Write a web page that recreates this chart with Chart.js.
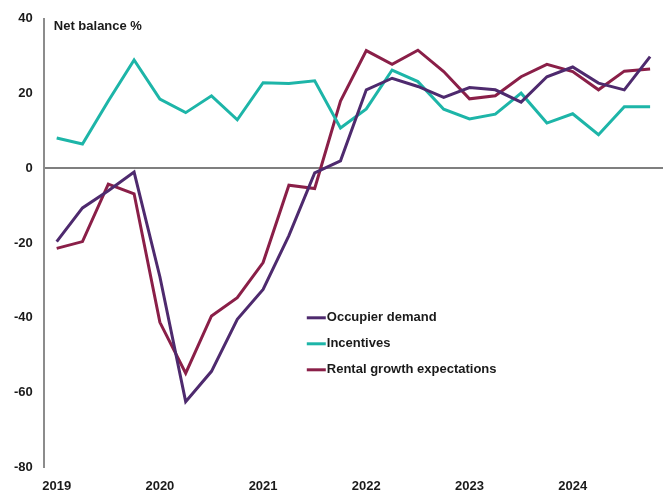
<!DOCTYPE html>
<html>
<head>
<meta charset="utf-8">
<script src="https://cdn.jsdelivr.net/npm/chart.js@4"></script>
<style>
  html, body { margin: 0; padding: 0; background: #fff; }
  #wrap { width: 669px; height: 494px; position: relative; }
</style>
</head>
<body>
<div id="wrap"><canvas id="chart"></canvas></div>
<script>
  // Quarterly labels, only Q1 shows the year
  const years = ['2019', '2020', '2021', '2022', '2023', '2024'];
  const quarterLabels = [];
  years.forEach(y => { quarterLabels.push(y, '', '', ''); });

  const seriesNames = ['Occupier demand', 'Incentives', 'Rental growth expectations'];
  const seriesColors = ['#4e2a6e', '#1db5a8', '#8a1f48'];

  const occupierDemand = [-19.6, -10.6, -6, -1, -29, -62.4, -54.3, -40.4, -32.4, -18, -1.2, 2,
    21, 24.1, 21.9, 19, 21.6, 21, 17.7, 24.5, 27.1, 22.8, 21, 29.9];
  const incentives = [8.1, 6.5, 18, 29, 18.5, 14.9, 19.4, 13, 22.9, 22.7, 23.4, 10.8,
    15.9, 26.3, 23.2, 15.8, 13.2, 14.5, 20.1, 12.1, 14.6, 9, 16.5, 16.5];
  const rentalGrowth = [-21.4, -19.6, -4.2, -6.8, -41.2, -54.8, -39.5, -34.6, -25.2, -4.5, -5.4, 18,
    31.5, 27.8, 31.6, 25.9, 18.6, 19.4, 24.5, 27.8, 25.9, 21, 26, 26.6];

  const yTicks = [-80, -60, -40, -20, 0, 20, 40];

  const FONT = '"Liberation Sans", Arial, sans-serif';

  // Title and legend drawn inside the plot area
  const overlayPlugin = {
    id: 'overlay',
    afterDraw(chart) {
      const c = chart.ctx;
      const area = chart.chartArea;
      c.save();
      c.font = 'bold 13px ' + FONT;
      c.fillStyle = '#1a1a1a';
      c.textBaseline = 'middle';
      c.fillText('Net balance %', area.left + 10, area.top + 8);

      const lx = area.left + 263;
      let ly = area.top + 299;
      seriesNames.forEach((name, i) => {
        c.strokeStyle = seriesColors[i];
        c.lineWidth = 3;
        c.beginPath();
        c.moveTo(lx, ly);
        c.lineTo(lx + 19, ly);
        c.stroke();
        c.fillStyle = '#1a1a1a';
        c.fillText(name, lx + 20, ly);
        ly += 26;
      });
      c.restore();
    }
  };

  const datasets = [occupierDemand, incentives, rentalGrowth].map((d, i) => ({
    label: seriesNames[i],
    data: d,
    borderColor: seriesColors[i],
    backgroundColor: seriesColors[i],
    borderWidth: 3,
    pointRadius: 0,
    tension: 0,
    fill: false
  }));

  new Chart(document.getElementById('chart'), {
    type: 'line',
    data: { labels: quarterLabels, datasets: datasets },
    options: {
      responsive: true,
      maintainAspectRatio: false,
      animation: false,
      layout: { padding: { top: 10, right: 6, left: 3, bottom: -11 } },
      plugins: {
        legend: { display: false },
        tooltip: { enabled: false }
      },
      scales: {
        x: {
          offset: true,
          grid: { display: false, drawTicks: false },
          border: { display: false },
          ticks: {
            autoSkip: false,
            maxRotation: 0,
            padding: 11,
            color: '#1a1a1a',
            font: { family: FONT, size: 13, weight: 'bold' }
          }
        },
        y: {
          min: -80,
          max: 40,
          afterBuildTicks(axis) { axis.ticks = yTicks.map(v => ({ value: v })); },
          grid: {
            drawTicks: false,
            color: ctx => (ctx.tick && ctx.tick.value === 0 ? '#7f7f7f' : 'rgba(0,0,0,0)'),
            lineWidth: 2
          },
          border: { display: true, color: '#8c8c8c', width: 2 },
          ticks: {
            padding: 11,
            color: '#1a1a1a',
            font: { family: FONT, size: 13, weight: 'bold' }
          }
        }
      }
    },
    plugins: [overlayPlugin]
  });
</script>
</body>
</html>
